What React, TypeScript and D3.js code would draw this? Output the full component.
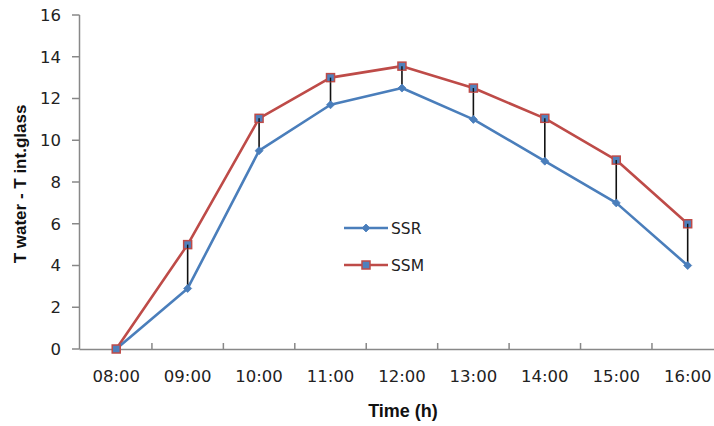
import React from "react";
import * as d3 from "d3";

const categories = ["08:00", "09:00", "10:00", "11:00", "12:00", "13:00", "14:00", "15:00", "16:00"];
const ssrValues = [0, 2.9, 9.5, 11.7, 12.5, 11.0, 9.0, 7.0, 4.0];
const ssmValues = [0, 5.0, 11.05, 13.0, 13.55, 12.5, 11.05, 9.05, 6.0];
const yTicks = [0, 2, 4, 6, 8, 10, 12, 14, 16];
const seriesNames = ["SSR", "SSM"];

const W = 714;
const H = 426;
const BLUE = "#4A7EBB";
const RED = "#BE4B48";
const AXIS = "#888888";

export default function App() {
  const x = d3.scaleBand<string>().domain(categories).range([80.5, 723.4]).paddingInner(0).paddingOuter(0);
  const y = d3.scaleLinear().domain([0, 16]).range([349, 15]);
  const cx = (c: string) => (x(c) as number) + x.bandwidth() / 2;

  const line = d3
    .line<[string, number]>()
    .x((d) => cx(d[0]))
    .y((d) => y(d[1]));

  const ssrPts: [string, number][] = categories.map((c, i) => [c, ssrValues[i]]);
  const ssmPts: [string, number][] = categories.map((c, i) => [c, ssmValues[i]]);

  const diamond = (px: number, py: number, r: number) =>
    `M${px},${py - r}L${px + r},${py}L${px},${py + r}L${px - r},${py}Z`;

  const tickFont = "'DejaVu Sans', Verdana, sans-serif";
  const boldFont = "'Liberation Sans', Arial, sans-serif";

  const legendY = [228, 265];

  return (
    <svg width={W} height={H} style={{ position: "absolute", left: 0, top: 0, background: "#fff" }}>
      <rect x={0} y={0} width={W} height={H} fill="#fff" />
      {/* Y axis */}
      <line x1={79.5} x2={79.5} y1={y(16)} y2={y(0)} stroke={AXIS} strokeWidth={1.5} />
      {yTicks.map((t) => (
        <g key={t}>
          <line x1={72} x2={79.5} y1={y(t)} y2={y(t)} stroke={AXIS} strokeWidth={1.5} />
          <text
            x={61}
            y={y(t)}
            dy="0.36em"
            textAnchor="end"
            fontFamily={tickFont}
            fontSize={16.5}
            fill="#222"
          >
            {t}
          </text>
        </g>
      ))}
      {/* X axis */}
      <line x1={79.5} x2={W} y1={349.5} y2={349.5} stroke={AXIS} strokeWidth={1.5} />
      {categories.slice(1).map((c) => (
        <line
          key={c}
          x1={x(c) as number}
          x2={x(c) as number}
          y1={343}
          y2={349.5}
          stroke={AXIS}
          strokeWidth={1.5}
        />
      ))}
      {categories.map((c) => (
        <text
          key={c}
          x={cx(c)}
          y={382}
          textAnchor="middle"
          fontFamily={tickFont}
          fontSize={16.5}
          fill="#222"
        >
          {c}
        </text>
      ))}
      {/* Axis titles */}
      <text
        x={403}
        y={417}
        textAnchor="middle"
        fontFamily={boldFont}
        fontWeight="bold"
        fontSize={18}
        fill="#111"
      >
        Time (h)
      </text>
      <text
        transform={`translate(26,184) rotate(-90)`}
        textAnchor="middle"
        fontFamily={boldFont}
        fontWeight="bold"
        fontSize={17}
        fill="#111"
      >
        T water - T int.glass
      </text>

      {/* Series lines */}
      <path d={line(ssmPts) || ""} fill="none" stroke={RED} strokeWidth={2.6} strokeLinejoin="round" />
      <path d={line(ssrPts) || ""} fill="none" stroke={BLUE} strokeWidth={2.6} strokeLinejoin="round" />

      {/* Drop lines */}
      {categories.map((c, i) => (
        <line
          key={c}
          x1={cx(c)}
          x2={cx(c)}
          y1={y(ssmValues[i])}
          y2={y(ssrValues[i])}
          stroke="#111"
          strokeWidth={1.6}
        />
      ))}

      {/* Markers */}
      {ssrPts.map(([c, v]) => (
        <path key={c} d={diamond(cx(c), y(v), 4)} fill={BLUE} stroke={BLUE} strokeWidth={0.8} />
      ))}
      {ssmPts.map(([c, v]) => (
        <rect
          key={c}
          x={cx(c) - 4}
          y={y(v) - 4}
          width={8}
          height={8}
          fill="#4F81BD"
          stroke={RED}
          strokeWidth={1.5}
        />
      ))}
      {/* redraw drop line centers over squares */}
      {categories.map((c, i) =>
        ssmValues[i] !== ssrValues[i] ? (
          <line
            key={c}
            x1={cx(c)}
            x2={cx(c)}
            y1={y(ssmValues[i])}
            y2={y(ssmValues[i]) + 4}
            stroke="#111"
            strokeWidth={1.4}
          />
        ) : null
      )}

      {/* Legend */}
      {seriesNames.map((name, i) => (
        <g key={name}>
          <line x1={344} x2={388} y1={legendY[i]} y2={legendY[i]} stroke={i === 0 ? BLUE : RED} strokeWidth={2.6} />
          {i === 0 ? (
            <path d={diamond(366, legendY[i], 4)} fill={BLUE} stroke={BLUE} strokeWidth={0.8} />
          ) : (
            <rect x={362} y={legendY[i] - 4} width={8} height={8} fill="#4F81BD" stroke={RED} strokeWidth={1.5} />
          )}
          <text
            x={391}
            y={legendY[i]}
            dy="0.36em"
            fontFamily={tickFont}
            fontSize={15.5}
            fill="#222"
          >
            {name}
          </text>
        </g>
      ))}
    </svg>
  );
}
